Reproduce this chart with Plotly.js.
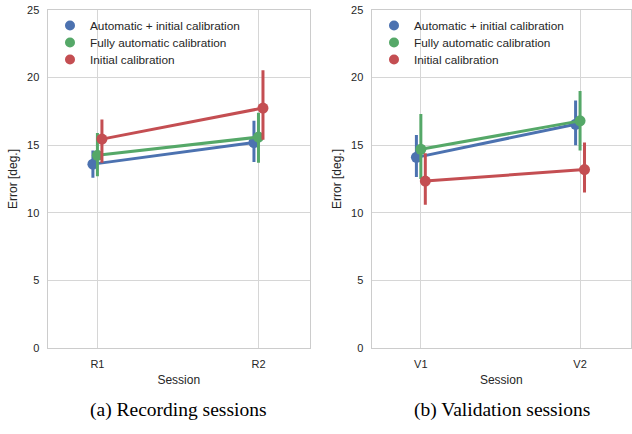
<!DOCTYPE html>
<html>
<head>
<meta charset="utf-8">
<script src="https://cdn.plot.ly/plotly-3.0.1.min.js"></script>
<style>html,body{margin:0;padding:0;background:#fff;}#chart{width:632px;height:434px;}</style>
</head>
<body>
<div id="chart"></div>
<script>
// ---- data ----
var recSessions = ['R1', 'R2'];
var valSessions = ['V1', 'V2'];
var seriesNames = ['Automatic + initial calibration', 'Fully automatic calibration', 'Initial calibration'];

var recAutoInit = [13.6, 15.2];
var recAutoInitHi = [14.6, 16.8];
var recAutoInitLo = [12.6, 13.75];
var recFullyAuto = [14.25, 15.6];
var recFullyAutoHi = [15.9, 17.4];
var recFullyAutoLo = [12.7, 13.7];
var recInitial = [15.45, 17.75];
var recInitialHi = [16.9, 20.55];
var recInitialLo = [13.7, 15.4];

var valAutoInit = [14.1, 16.55];
var valAutoInitHi = [15.75, 18.3];
var valAutoInitLo = [12.65, 15.0];
var valFullyAuto = [14.7, 16.8];
var valFullyAutoHi = [17.3, 19.0];
var valFullyAutoLo = [12.5, 14.6];
var valInitial = [12.35, 13.2];
var valInitialHi = [14.4, 15.2];
var valInitialLo = [10.6, 11.5];

var yTicks = [0, 5, 10, 15, 20, 25];

// ---- styling ----
var colors = ['#4C72B0', '#55A868', '#C44E52'];
var dodge = [-0.028, 0, 0.028];
var font = 'Liberation Sans, Arial, sans-serif';
var W = 632, H = 434;

function mk(vals, hi, lo, i, xa, ya) {
  return {
    x: vals.map(function (v, k) { return k + dodge[i]; }),
    y: vals,
    xaxis: xa, yaxis: ya,
    type: 'scatter', mode: 'lines+markers',
    line: {color: colors[i], width: 3},
    marker: {color: colors[i], size: 11},
    error_y: {type: 'data', symmetric: false,
      array: hi.map(function (h, k) { return h - vals[k]; }),
      arrayminus: lo.map(function (l, k) { return vals[k] - l; }),
      color: colors[i], thickness: 3, width: 0},
    showlegend: false, hoverinfo: 'skip'
  };
}
function leg(i, xa, ya, lg) {
  return {x: [null], y: [null], xaxis: xa, yaxis: ya, type: 'scatter', mode: 'markers',
    marker: {color: colors[i], size: 10}, name: seriesNames[i], legend: lg, showlegend: true};
}

var data = [
  mk(recAutoInit, recAutoInitHi, recAutoInitLo, 0, 'x', 'y'),
  mk(recFullyAuto, recFullyAutoHi, recFullyAutoLo, 1, 'x', 'y'),
  mk(recInitial, recInitialHi, recInitialLo, 2, 'x', 'y'),
  mk(valAutoInit, valAutoInitHi, valAutoInitLo, 0, 'x2', 'y2'),
  mk(valFullyAuto, valFullyAutoHi, valFullyAutoLo, 1, 'x2', 'y2'),
  mk(valInitial, valInitialHi, valInitialLo, 2, 'x2', 'y2'),
  leg(0, 'x', 'y', 'legend'), leg(1, 'x', 'y', 'legend2'), leg(2, 'x', 'y', 'legend3'),
  leg(0, 'x2', 'y2', 'legend4'), leg(1, 'x2', 'y2', 'legend5'), leg(2, 'x2', 'y2', 'legend6')
];

function xax(dom, labels) {
  return {domain: dom, range: [-0.31, 1.32], tickvals: [0, 1], ticktext: labels,
    showgrid: true, gridcolor: '#d6d6d6', gridwidth: 1, zeroline: false,
    showline: true, linecolor: '#cccccc', linewidth: 1, mirror: true,
    ticks: '', tickfont: {family: font, size: 11, color: '#262626'},
    ticklabelstandoff: 6,
    title: {text: 'Session', font: {family: font, size: 12, color: '#262626'}, standoff: 6},
    fixedrange: true};
}
function yax(anchor) {
  return {domain: [(H - 348) / H, (H - 10) / H], range: [0, 25], tickvals: yTicks, anchor: anchor,
    showgrid: true, gridcolor: '#d6d6d6', gridwidth: 1, zeroline: false,
    showline: true, linecolor: '#cccccc', linewidth: 1, mirror: true,
    ticks: '', tickfont: {family: font, size: 11, color: '#262626'},
    ticklabelstandoff: 5,
    title: {text: 'Error [deg.]', font: {family: font, size: 12, color: '#262626'}, standoff: 6},
    fixedrange: true};
}
function lg(xpx, topPx) {
  return {x: xpx / W, y: (H - topPx) / H, xanchor: 'left', yanchor: 'top', bgcolor: 'rgba(0,0,0,0)',
    font: {family: font, size: 11.8, color: '#262626'}, itemwidth: 30};
}
var capFont = {family: 'Liberation Serif, Times New Roman, serif', size: 19.5, color: '#000000'};

var layout = {
  width: W, height: H,
  margin: {l: 0, r: 0, t: 0, b: 0},
  paper_bgcolor: '#ffffff', plot_bgcolor: '#ffffff',
  showlegend: true,
  xaxis: xax([47.5 / W, 310 / W], recSessions),
  yaxis: yax('x'),
  xaxis2: Object.assign(xax([371.5 / W, 631 / W], valSessions), {anchor: 'y2'}),
  yaxis2: yax('x2'),
  legend: lg(50, 11), legend2: lg(50, 28), legend3: lg(50, 45),
  legend4: lg(374, 11), legend5: lg(374, 28), legend6: lg(374, 45),
  annotations: [
    {text: '(a) Recording sessions', xref: 'paper', yref: 'paper', x: 178 / W, y: (H - 410) / H,
      xanchor: 'center', yanchor: 'middle', showarrow: false, font: capFont},
    {text: '(b) Validation sessions', xref: 'paper', yref: 'paper', x: 502 / W, y: (H - 410) / H,
      xanchor: 'center', yanchor: 'middle', showarrow: false, font: capFont}
  ]
};

Plotly.newPlot('chart', data, layout, {displayModeBar: false, staticPlot: true});
</script>
</body>
</html>
